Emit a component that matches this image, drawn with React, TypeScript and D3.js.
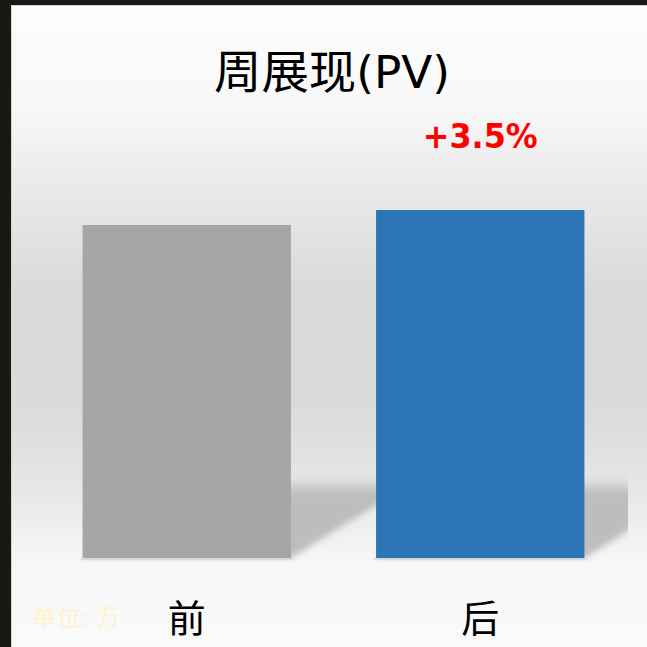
import React, { useEffect, useRef } from "react";
import * as d3 from "d3";

// data
const categories = ["前", "后"];
const pvValues = [100, 103.5];
const barColors = ["#a6a6a6", "#2e75b6"];
const changeLabel = "+3.5%";
const titleText = "周展现";
const titleSuffix = "(PV)";
const unitLabel = "单位: 万";

const W = 647;
const H = 647;

const App = () => {
  const svgRef = useRef<SVGSVGElement>(null);

  useEffect(() => {
    const svg = d3.select(svgRef.current);
    svg.selectAll("*").remove();

    const defs = svg.append("defs");

    // background gradient of the slide
    const bg = defs.append("linearGradient").attr("id", "bg").attr("x1", 0).attr("y1", 0).attr("x2", 0).attr("y2", 1);
    [
      [0, "#fdfdfd"],
      [0.15, "#f8f8f8"],
      [0.32, "#e6e6e6"],
      [0.45, "#d9d9d9"],
      [0.62, "#dadada"],
      [0.75, "#e6e6e6"],
      [0.87, "#f7f7f7"],
      [1, "#fafafa"],
    ].forEach(([o, c]) => bg.append("stop").attr("offset", o as number).attr("stop-color", c as string));

    const sh = defs.append("linearGradient").attr("id", "shfade").attr("x1", 0).attr("y1", 0).attr("x2", 0).attr("y2", 1);
    sh.append("stop").attr("offset", 0).attr("stop-color", "#bdbdbd").attr("stop-opacity", 0);
    sh.append("stop").attr("offset", 0.2).attr("stop-color", "#bdbdbd").attr("stop-opacity", 1);
    sh.append("stop").attr("offset", 1).attr("stop-color", "#bdbdbd").attr("stop-opacity", 1);

    defs.append("filter").attr("id", "blur").attr("x", -0.2).attr("y", -0.2).attr("width", 1.4).attr("height", 1.4)
      .append("feGaussianBlur").attr("stdDeviation", 3);

    const left = 40;
    const right = 627;
    const bottom = 558;

    defs.append("clipPath").attr("id", "plot")
      .append("rect").attr("x", left).attr("y", 0).attr("width", right - left + 1).attr("height", bottom + 4);

    // frame
    svg.append("rect").attr("width", W).attr("height", H).attr("fill", "#1a1813");
    svg.append("rect").attr("x", 11).attr("y", 5).attr("width", W - 11).attr("height", H - 5).attr("fill", "#d6d6d6");
    svg.append("rect").attr("x", 12).attr("y", 6).attr("width", W - 12).attr("height", H - 6).attr("fill", "url(#bg)");

    const x = d3.scaleBand<string>().domain(categories).range([left, right]).paddingInner(0.29).paddingOuter(0.145);
    const y = d3.scaleLinear().domain([22.3, 120]).range([bottom, 139.3]);

    // perspective shadows behind the bars
    const shadowTop = 478;
    const slope = 0.62;
    const dx = (bottom - shadowTop) / slope;
    const gShadow = svg.append("g").attr("clip-path", "url(#plot)");
    categories.forEach((c) => {
      const x0 = x(c)!;
      const x1 = x0 + x.bandwidth();
      gShadow.append("polygon")
        .attr("points", [[x0, bottom], [x1, bottom], [x1 + dx, shadowTop], [x0 + dx, shadowTop]].map((p) => p.join(",")).join(" "))
        .attr("fill", "url(#shfade)")
        .attr("filter", "url(#blur)");
      gShadow.append("rect").attr("x", x0 - 2).attr("y", bottom).attr("width", x.bandwidth() + 4).attr("height", 2)
        .attr("fill", "#d9d9d9");
    });

    // bars
    svg.append("g").selectAll("rect")
      .data(pvValues)
      .join("rect")
      .attr("x", (_, i) => x(categories[i])!)
      .attr("y", (d) => y(d))
      .attr("width", x.bandwidth())
      .attr("height", (d) => bottom - y(d))
      .attr("fill", (_, i) => barColors[i]);

    // category labels
    svg.append("g").selectAll("text")
      .data(categories)
      .join("text")
      .attr("x", (d) => x(d)! + x.bandwidth() / 2)
      .attr("y", 632)
      .attr("text-anchor", "middle")
      .attr("font-family", "'Noto Sans CJK SC', sans-serif")
      .attr("font-size", 38)
      .attr("fill", "#000")
      .text((d) => d);

    // change label above the second bar
    svg.append("text")
      .attr("x", x(categories[1])! + x.bandwidth() / 2)
      .attr("y", 148)
      .attr("text-anchor", "middle")
      .attr("font-family", "'DejaVu Sans', sans-serif")
      .attr("font-weight", "bold")
      .attr("font-size", 33)
      .attr("textLength", 115)
      .attr("lengthAdjust", "spacingAndGlyphs")
      .attr("fill", "#ff0000")
      .text(changeLabel);

    // title
    const title = svg.append("text")
      .attr("x", 332)
      .attr("y", 88)
      .attr("text-anchor", "middle")
      .attr("font-family", "'Noto Sans CJK SC', sans-serif")
      .attr("font-size", 46)
      .attr("textLength", 236)
      .attr("lengthAdjust", "spacingAndGlyphs")
      .attr("fill", "#000");
    title.append("tspan").text(titleText);
    title.append("tspan").attr("font-family", "'DejaVu Sans', sans-serif").attr("font-size", 44).text(titleSuffix);

    // unit note
    svg.append("text")
      .attr("x", 32)
      .attr("y", 626)
      .attr("font-family", "'Noto Sans CJK SC', sans-serif")
      .attr("font-size", 24)
      .attr("textLength", 88)
      .attr("lengthAdjust", "spacing")
      .attr("fill", "#fff2cc")
      .text(unitLabel);
  }, []);

  return (
    <svg
      ref={svgRef}
      width={W}
      height={H}
      style={{ position: "absolute", left: 0, top: 0, display: "block" }}
    />
  );
};

export default App;
